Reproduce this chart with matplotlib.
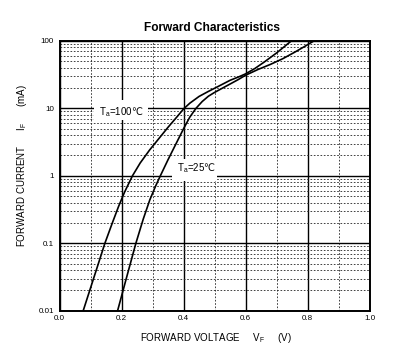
import matplotlib
matplotlib.use("Agg")
import matplotlib.pyplot as plt
import matplotlib.transforms as mtransforms
from matplotlib.patches import Rectangle
from matplotlib.ticker import FixedLocator, MultipleLocator, LogLocator, NullFormatter

plt.rcParams['font.family'] = ['Liberation Sans', 'DejaVu Sans']
plt.rcParams['mathtext.fontset'] = 'custom'
plt.rcParams['mathtext.rm'] = 'Liberation Sans'
plt.rcParams['mathtext.sf'] = 'DejaVu Sans'   # only used for the degree sign

# curve data (V, mA)
v_100 = [0.076, 0.10, 0.125, 0.146, 0.17, 0.19, 0.21, 0.235, 0.26, 0.29, 0.32, 0.35, 0.38,
         0.40, 0.42, 0.45, 0.48, 0.51, 0.55, 0.58, 0.60, 0.63, 0.66, 0.70, 0.748]
i_100 = [0.01, 0.022, 0.050, 0.10, 0.20, 0.35, 0.58, 1.0, 1.55, 2.4, 3.55, 5.25, 7.6,
         9.8, 11.9, 15.0, 17.8, 20.9, 26.0, 29.5, 32.4, 38.9, 48.4, 66.1, 100]

v_25 = [0.187, 0.215, 0.246, 0.27, 0.291, 0.31, 0.325, 0.35, 0.375, 0.40, 0.42, 0.44, 0.46,
        0.48, 0.50, 0.52, 0.55, 0.576, 0.60, 0.64, 0.68, 0.72, 0.76, 0.79, 0.821]
i_25 = [0.01, 0.030, 0.10, 0.23, 0.44, 0.71, 1.0, 1.74, 2.95, 5.0, 7.4, 10.0, 12.6,
        15.1, 17.2, 19.3, 22.9, 26.6, 30.9, 37.6, 44.7, 54.3, 68.4, 82.2, 100]

x_ticks = [0.0, 0.2, 0.4, 0.6, 0.8, 1.0]
x_labels = ["0.0", "0.2", "0.4", "0.6", "0.8", "1.0"]
y_ticks = [0.01, 0.1, 1, 10, 100]
y_labels = ["0.01", "0.1", "1", "10", "100"]

fig = plt.figure(figsize=(4.03, 3.58), dpi=100)
ax = fig.add_axes([0.148, 0.132, 0.769, 0.754])

ax.set_yscale('log')
ax.set_xlim(0, 1.0)
ax.set_ylim(0.01, 100)

ax.xaxis.set_major_locator(FixedLocator(x_ticks))
ax.xaxis.set_minor_locator(MultipleLocator(0.1))
ax.set_xticklabels(x_labels)
ax.yaxis.set_major_locator(FixedLocator(y_ticks))
ax.yaxis.set_minor_locator(LogLocator(base=10, subs=range(2, 10)))
ax.yaxis.set_minor_formatter(NullFormatter())
ax.set_yticklabels(y_labels)

ax.tick_params(which='both', length=0, labelsize=5.8)
ax.tick_params(axis='x', pad=3)
ax.tick_params(axis='y', pad=4)

# grid: solid majors, dotted minors
ax.grid(True, which='major', color='black', linewidth=1.0, linestyle='-')
ax.grid(True, which='minor', color='#222222', linewidth=0.6, linestyle=(0, (2, 2)))
ax.set_axisbelow(True)
for s in ax.spines.values():
    s.set_linewidth(1.4)

ax.plot(v_100, i_100, color='black', linewidth=1.2, zorder=3)
ax.plot(v_25, i_25, color='black', linewidth=1.2, zorder=3)


def temp_label(x, y, temp, box_w, box_lo, box_hi):
    # white patch (in inches around the anchor) that hides the grid behind the label
    tr = fig.dpi_scale_trans + mtransforms.ScaledTranslation(x, y, ax.transData)
    ax.add_patch(Rectangle((-0.05, box_lo), box_w, box_hi - box_lo, transform=tr,
                           facecolor='white', edgecolor='none', zorder=4, clip_on=False))
    ax.text(x, y, 'T$_\\mathregular{a}$=' + temp + '$\\mathsf{\u2103}$', fontsize=7,
            ha='left', va='baseline', zorder=5)


temp_label(0.127, 8.0, '100', 0.54, -0.05, 0.15)
temp_label(0.379, 1.15, '25', 0.45, -0.09, 0.13)

fig.text(0.527, 0.922, 'Forward Characteristics', fontsize=8.6, fontweight='bold', ha='center', va='center')
fig.text(0.535, 0.056, 'FORWARD VOLTAGE     V$_\\mathregular{F}$     (V)', fontsize=7, ha='center', va='center')
fig.text(0.055, 0.538, 'FORWARD CURRENT      I$_\\mathregular{F}$      (mA)', fontsize=7, ha='center', va='center', rotation=90)

fig.savefig('out.png', dpi=100)
